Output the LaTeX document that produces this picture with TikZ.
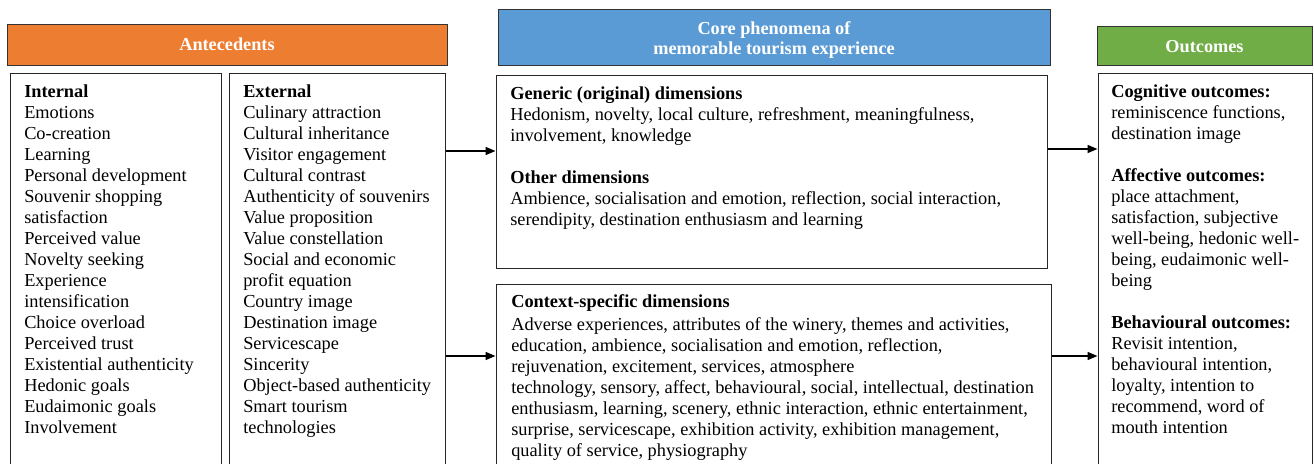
\documentclass[tikz,border=0pt]{standalone}
\usepackage{fontspec}
\setmainfont{Liberation Serif}
\usetikzlibrary{arrows.meta,fit}
\definecolor{orangeh}{HTML}{ED7D31}
\definecolor{blueh}{HTML}{5B9BD5}
\definecolor{greenh}{HTML}{70AD47}
\begin{document}
\begin{tikzpicture}[x=0.75pt,y=-0.75pt,
  box/.style={draw=black!85, line width=0.75pt, inner sep=0pt},
  hdr/.style={draw=black!80, line width=0.75pt, inner sep=0pt},
  htxt/.style={inner sep=0pt, text=white, anchor=center,
    font=\fontsize{13.7}{15}\selectfont\bfseries, align=center},
  txt/.style={inner sep=0pt, anchor=north west, align=left,
    font=\fontsize{13.75}{15.75}\selectfont, text=black},
  arr/.style={line width=1.1pt, -{Triangle[length=7.5pt,width=6pt]}}]
\useasboundingbox (0,0) rectangle (1314,464);
\clip (0,0) rectangle (1314,464);

% headers
\node[hdr, fill=orangeh, fit={(7,24) (447,65)}] (hant) {};
\node[hdr, fill=blueh, fit={(498,9) (1050,65)}] (hcore) {};
\node[hdr, fill=greenh, fit={(1097,26) (1312,65)}] (hout) {};
\node[htxt] (hantt) at ([yshift=0.5pt]hant.center) {Antecedents};
\node[htxt] (hcoret) at ([yshift=-2.5pt]hcore.center) {Core phenomena of\\memorable tourism experience};
\node[htxt] (houtt) at ([yshift=-0.75pt]hout.center) {Outcomes};

% boxes
\node[box, fit={(10,73) (221,480)}] (int) {};
\node[box, fit={(229,73) (445,480)}] (ext) {};
\node[box, fit={(496,75) (1047,268)}] (gen) {};
\node[box, fit={(496,284) (1051,480)}] (ctx) {};
\node[box, fit={(1098,73) (1312,480)}] (out) {};

% texts
\node[txt] (intt) at (24,82.3) {\strut\textbf{Internal}\\Emotions\\Co-creation\\Learning\\Personal development\\Souvenir shopping\\satisfaction\\Perceived value\\Novelty seeking\\Experience\\intensification\\Choice overload\\Perceived trust\\Existential authenticity\\Hedonic goals\\Eudaimonic goals\\Involvement};
\node[txt] (extt) at (243,82.3) {\strut\textbf{External}\\Culinary attraction\\Cultural inheritance\\Visitor engagement\\Cultural contrast\\Authenticity of souvenirs\\Value proposition\\Value constellation\\Social and economic\\profit equation\\Country image\\Destination image\\Servicescape\\Sincerity\\Object-based authenticity\\Smart tourism\\technologies};
\node[txt] (gent) at (510,84.3) {\strut\textbf{Generic (original) dimensions}\\Hedonism, novelty, local culture, refreshment, meaningfulness,\\involvement, knowledge\\[15.75pt]\textbf{Other dimensions}\\Ambience, socialisation and emotion, reflection, social interaction,\\serendipity, destination enthusiasm and learning};
\node[txt] (ctxt) at (511,292.3) {\strut\textbf{Context-specific dimensions}\\[1.5pt]Adverse experiences, attributes of the winery, themes and activities,\\education, ambience, socialisation and emotion, reflection,\\rejuvenation, excitement, services, atmosphere\\technology, sensory, affect, behavioural, social, intellectual, destination\\enthusiasm, learning, scenery, ethnic interaction, ethnic entertainment,\\surprise, servicescape, exhibition activity, exhibition management,\\quality of service, physiography};
\node[txt] (outt) at (1111,82.3) {\strut\textbf{Cognitive outcomes:}\\reminiscence functions,\\destination image\\[15.75pt]\textbf{Affective outcomes:}\\place attachment,\\satisfaction, subjective\\well-being, hedonic well-\\being, eudaimonic well-\\being\\[15.75pt]\textbf{Behavioural outcomes:}\\Revisit intention,\\behavioural intention,\\loyalty, intention to\\recommend, word of\\mouth intention};

% arrows
\coordinate (a1) at (0,151);
\coordinate (a2) at (0,356);
\coordinate (a3) at (0,149);
\draw[arr] (ext.east |- a1) -- (gen.west |- a1);
\draw[arr] (ext.east |- a2) -- (ctx.west |- a2);
\draw[arr] (gen.east |- a3) -- (out.west |- a3);
\draw[arr] (ctx.east |- a2) -- (out.west |- a2);
\end{tikzpicture}
\end{document}
